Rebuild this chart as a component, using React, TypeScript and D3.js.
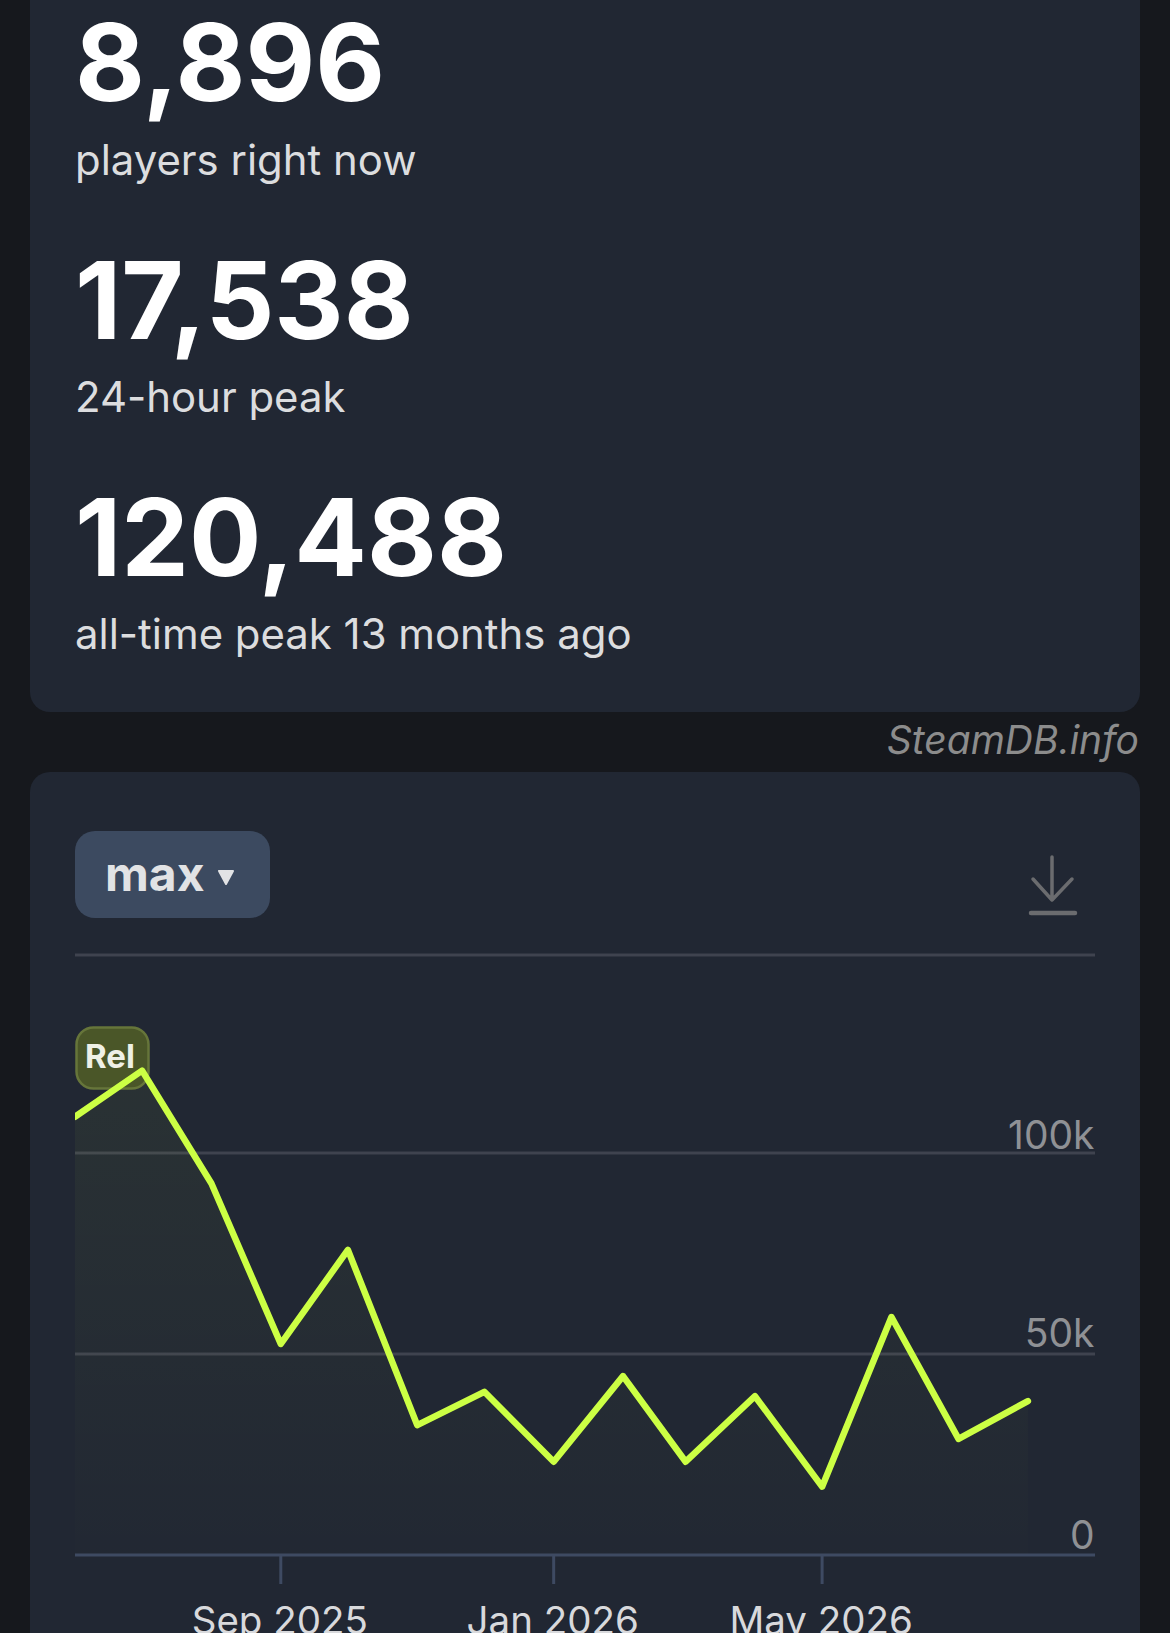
import React, { useEffect, useRef } from 'react';
import * as d3 from 'd3';

const statValues = ['8,896', '17,538', '120,488'];
const statLabels = ['players right now', '24-hour peak', 'all-time peak 13 months ago'];

// monthly peaks
const months = ['2025-06-01', '2025-07-01', '2025-08-01', '2025-09-01', '2025-10-01', '2025-11-01', '2025-12-01', '2026-01-01', '2026-02-01', '2026-03-01', '2026-04-01', '2026-05-01', '2026-06-01', '2026-07-01', '2026-08-01'];
const peaks = [109000, 120488, 92400, 52500, 75900, 32300, 40600, 23200, 44500, 23200, 39500, 17000, 59200, 28900, 38300];

const yTicks = [0, 50000, 100000];
const xTicks = ['2025-09-01', '2026-01-01', '2026-05-01'];

const parseDay = d3.utcParse('%Y-%m-%d');
const font = 'Inter, sans-serif';

const App: React.FC = () => {
  const svgRef = useRef<SVGSVGElement | null>(null);

  useEffect(() => {
    const width = 1170;
    const height = 1633;
    const left = 75;
    const right = 1095;

    const svg = d3.select(svgRef.current);
    svg.selectAll('*').remove();
    svg.attr('width', width).attr('height', height).attr('viewBox', `0 0 ${width} ${height}`);

    svg.append('rect').attr('width', width).attr('height', height).attr('fill', '#16181d');

    // panels
    svg.append('rect').attr('x', 30).attr('y', -40).attr('width', 1110).attr('height', 752).attr('rx', 20).attr('fill', '#212733');
    svg.append('rect').attr('x', 30).attr('y', 772).attr('width', 1110).attr('height', 900).attr('rx', 20).attr('fill', '#212733');

    // stats block
    const statBase = [101, 339, 576];
    const labelBase = [175, 412, 649];
    statValues.forEach((v, i) => {
      svg.append('text').attr('x', 75).attr('y', statBase[i])
        .attr('font-family', font).attr('font-size', 107.5).attr('font-weight', 700)
        .attr('fill', '#ffffff').text(v);
      svg.append('text').attr('x', 75).attr('y', labelBase[i])
        .attr('font-family', font).attr('font-size', 41.9).attr('fill', '#dcdddf').text(statLabels[i]);
    });

    svg.append('text').attr('x', 1139).attr('y', 754).attr('text-anchor', 'end')
      .attr('font-family', font).attr('font-size', 39).attr('font-style', 'italic')
      .attr('fill', '#8c8c8c').text('SteamDB.info');

    // range button
    svg.append('rect').attr('x', 75).attr('y', 831).attr('width', 195).attr('height', 87).attr('rx', 20).attr('fill', '#3c4a60');
    svg.append('text').attr('x', 105).attr('y', 891)
      .attr('font-family', font).attr('font-size', 48).attr('font-weight', 700)
      .attr('fill', '#e2e3e5').text('max');
    svg.append('path').attr('d', 'M219,871 L233,871 L226,884 Z')
      .attr('fill', '#e2e3e5').attr('stroke', '#e2e3e5').attr('stroke-width', 2).attr('stroke-linejoin', 'round');

    // download icon
    svg.append('path').attr('d', 'M1052,857 L1052,900 M1033,879 L1052,900 L1072,879')
      .attr('fill', 'none').attr('stroke', '#6b6c6f').attr('stroke-width', 3.5).attr('stroke-linecap', 'round').attr('stroke-linejoin', 'round');
    svg.append('line').attr('x1', 1031).attr('x2', 1075).attr('y1', 913).attr('y2', 913)
      .attr('stroke', '#6b6c6f').attr('stroke-width', 4.5).attr('stroke-linecap', 'round');

    // top rule
    svg.append('line').attr('x1', left).attr('x2', right).attr('y1', 955).attr('y2', 955)
      .attr('stroke', '#3f434f').attr('stroke-width', 3);

    const x = d3.scaleUtc()
      .domain([parseDay('2025-06-01') as Date, parseDay('2026-08-31') as Date])
      .range([left, right]);
    const y = d3.scaleLinear().domain([0, 100000]).range([1555, 1153]);

    const series = months.map((m, i) => ({ date: parseDay(m) as Date, value: peaks[i] }));

    // grid lines with labels
    yTicks.filter(t => t > 0).forEach(t => {
      svg.append('line').attr('x1', left).attr('x2', right).attr('y1', y(t)).attr('y2', y(t))
        .attr('stroke', '#3f434f').attr('stroke-width', 3);
    });

    const defs = svg.append('defs');
    const grad = defs.append('linearGradient').attr('id', 'areaFade').attr('x1', 0).attr('x2', 0).attr('y1', 0).attr('y2', 1);
    grad.append('stop').attr('offset', '0%').attr('stop-color', '#ccff44').attr('stop-opacity', 0.05);
    grad.append('stop').attr('offset', '100%').attr('stop-color', '#ccff44').attr('stop-opacity', 0.005);

    const area = d3.area<{ date: Date; value: number }>().x(d => x(d.date)).y0(y(0)).y1(d => y(d.value));
    const line = d3.line<{ date: Date; value: number }>().x(d => x(d.date)).y(d => y(d.value));

    svg.append('path').datum(series).attr('d', area as any).attr('fill', 'url(#areaFade)');

    // release flag, sits under the line
    svg.append('rect').attr('x', 76.5).attr('y', 1027.5).attr('width', 72).attr('height', 61).attr('rx', 17)
      .attr('fill', '#4a5628').attr('stroke', '#66753a').attr('stroke-width', 2.5);
    svg.append('text').attr('x', 110).attr('y', 1068).attr('text-anchor', 'middle')
      .attr('font-family', font).attr('font-size', 33).attr('font-weight', 700)
      .attr('fill', '#eef0e6').text('Rel');

    const clip = defs.append('clipPath').attr('id', 'plotClip');
    clip.append('rect').attr('x', left).attr('y', 955).attr('width', right - left).attr('height', 620);

    svg.append('path').datum(series).attr('d', line as any)
      .attr('clip-path', 'url(#plotClip)')
      .attr('fill', 'none').attr('stroke', '#ccff44').attr('stroke-width', 6.5)
      .attr('stroke-linejoin', 'round').attr('stroke-linecap', 'round');

    // y labels, the gap to the grid line isn't constant in the original
    const labelGap = [6, 7, 4];
    yTicks.forEach((t, i) => {
      svg.append('text').attr('x', right - 0.5).attr('y', y(t) - labelGap[i]).attr('text-anchor', 'end')
        .attr('font-family', font).attr('font-size', 39)
        .attr('fill', '#8f9195').text(t === 0 ? '0' : `${t / 1000}k`);
    });

    // x axis
    const xAxis = d3.axisBottom(x)
      .tickValues(xTicks.map(d => parseDay(d) as Date))
      .tickSizeInner(29)
      .tickSizeOuter(0)
      .tickPadding(23)
      .offset(0)
      .tickFormat(d => d3.utcFormat('%b %Y')(d as Date));
    const axisG = svg.append('g').attr('transform', 'translate(0,1555)').call(xAxis as any);
    axisG.select('.domain').attr('stroke', '#3e4a62').attr('stroke-width', 3);
    axisG.selectAll('.tick line').attr('stroke', '#3e4a62').attr('stroke-width', 3);
    axisG.selectAll('.tick text').attr('font-family', font).attr('font-size', 38.5).attr('fill', '#d8d9dc').attr('dx', -1);
  }, []);

  return <svg ref={svgRef} style={{ position: 'absolute', top: 0, left: 0, display: 'block' }}></svg>;
};

export default App;
